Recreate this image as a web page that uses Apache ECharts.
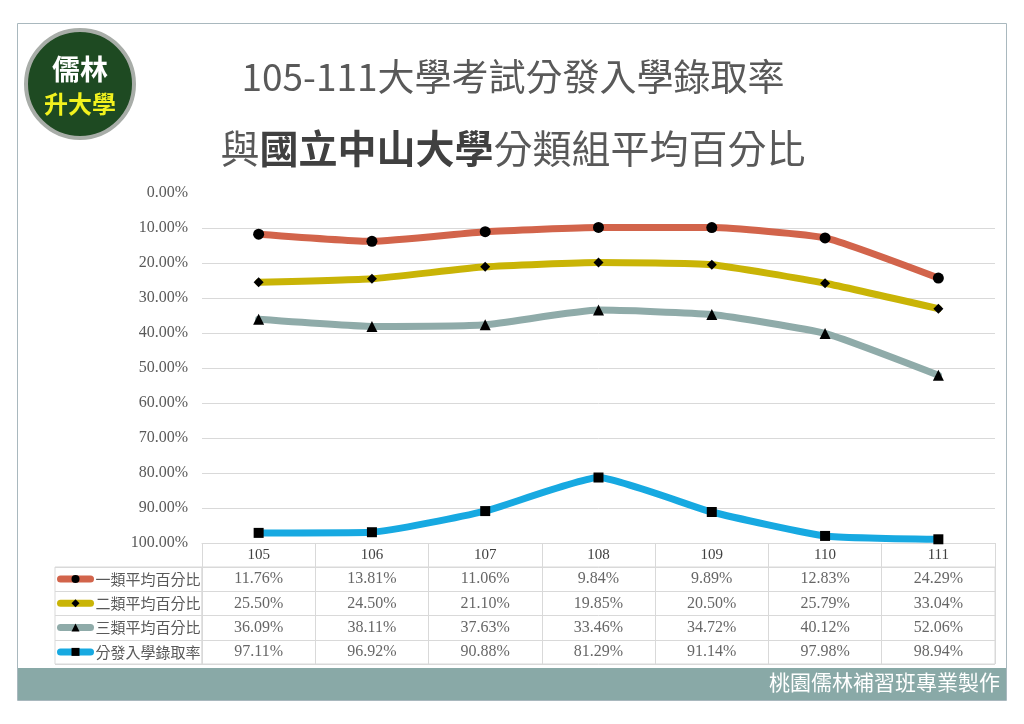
<!DOCTYPE html>
<html><head><meta charset="utf-8">
<script src="https://cdn.jsdelivr.net/npm/echarts@6/dist/echarts.min.js"></script>
<style>html,body{margin:0;padding:0;background:#fff}#c{width:1024px;height:724px}</style>
</head><body><div id="c"></div>
<script>
const categories = ['105','106','107','108','109','110','111'];
const seriesNames = ['一類平均百分比','二類平均百分比','三類平均百分比','分發入學錄取率'];
const group1 = [11.76, 13.81, 11.06, 9.84, 9.89, 12.83, 24.29];
const group2 = [25.50, 24.50, 21.10, 19.85, 20.50, 25.79, 33.04];
const group3 = [36.09, 38.11, 37.63, 33.46, 34.72, 40.12, 52.06];
const admitRate = [97.11, 96.92, 90.88, 81.29, 91.14, 97.98, 98.94];

const allSeries = [group1, group2, group3, admitRate];
const colors = ['#D2644B', '#C9B406', '#8FABA9', '#17A9E1'];
const symbols = ['circle', 'diamond', 'triangle', 'rect'];
const symbolSizes = [11, 10, 11, 10];
const CJK = '"Noto Sans CJK TC","Noto Sans CJK SC",sans-serif';
const SERIF = '"Liberation Serif","DejaVu Serif",serif';

const chart = echarts.init(document.getElementById('c'), null, {renderer: 'canvas'});

const lineSeries = allSeries.map((d, i) => ({
  name: seriesNames[i], type: 'line', xAxisIndex: 0, yAxisIndex: 0,
  data: d, smooth: 0.15, symbol: symbols[i], symbolSize: symbolSizes[i],
  showAllSymbol: true, z: 5 + i,
  itemStyle: {color: '#000'},
  lineStyle: {color: colors[i], width: 7, cap: 'round'}
}));

const cellData = [];
allSeries.forEach((d, r) => d.forEach((v, c) => cellData.push([c, r, v])));

const option = {
  animation: false,
  graphic: [
    {type: 'rect', shape: {x: 17.5, y: 23.5, width: 989, height: 677}, style: {fill: 'none', stroke: '#A9B8BE', lineWidth: 1}, z: 0},
    {type: 'rect', shape: {x: 18, y: 668, width: 988, height: 32}, style: {fill: '#89A9A7'}, z: 1},
    {type: 'text', right: 24, top: 672, style: {text: '桃園儒林補習班專業製作', fill: '#fff', font: '21px ' + CJK}, z: 2},
    {type: 'circle', shape: {cx: 80, cy: 84, r: 54}, style: {fill: '#1E4A22', stroke: '#A8ADA8', lineWidth: 4}, z: 1},
    {type: 'text', x: 80, y: 69, style: {text: '儒林', fill: '#fff', font: 'bold 28px ' + CJK, align: 'center', verticalAlign: 'middle'}, z: 2},
    {type: 'text', x: 80, y: 104, style: {text: '升大學', fill: '#F2F21E', font: 'bold 24px ' + CJK, align: 'center', verticalAlign: 'middle'}, z: 2},
    {type: 'text', x: 513, y: 77, style: {text: '105-111大學考試分發入學錄取率', fill: '#595959', font: '37px ' + CJK, align: 'center', verticalAlign: 'middle'}, z: 2},
    {type: 'text', x: 513, y: 148, style: {
      text: '{n|與}{b|國立中山大學}{n|分類組平均百分比}', align: 'center', verticalAlign: 'middle',
      rich: {n: {fill: '#595959', font: '39px ' + CJK}, b: {fill: '#404040', font: 'bold 39px ' + CJK}}
    }, z: 2}
  ],
  legend: {
    orient: 'vertical', left: 57, top: 571, itemWidth: 30, itemHeight: 10, itemGap: 8.3,
    padding: 0, data: seriesNames,
    textStyle: {fontFamily: CJK, fontSize: 15, color: '#595959', lineHeight: 16},
    lineStyle: {width: 7, cap: 'round'}
  },
  grid: [
    {left: 202, right: 29, top: 193, height: 350},
    {left: 202, right: 29, top: 567, height: 97, show: true, borderColor: '#D9D9D9', borderWidth: 1},
    {left: 55, width: 147, top: 567, height: 97, show: true, borderColor: '#D9D9D9', borderWidth: 1}
  ],
  xAxis: [
    {type: 'category', gridIndex: 0, data: categories, boundaryGap: true,
     axisLine: {onZero: false, lineStyle: {color: '#D9D9D9'}},
     axisTick: {show: true, length: 24, interval: 0, lineStyle: {color: '#D9D9D9'}},
     axisLabel: {margin: 5, color: '#404040', fontFamily: SERIF, fontSize: 15}},
    {type: 'category', gridIndex: 1, data: categories, boundaryGap: true,
     axisLine: {show: false}, axisTick: {show: false}, axisLabel: {show: false},
     splitLine: {show: true, interval: 0, lineStyle: {color: '#D9D9D9'}}},
    {type: 'value', gridIndex: 2, show: false, min: 0, max: 1}
  ],
  yAxis: [
    {type: 'value', gridIndex: 0, inverse: true, min: 0, max: 100, interval: 10,
     axisLine: {show: false}, axisTick: {show: false},
     axisLabel: {margin: 14, color: '#595959', fontFamily: SERIF, fontSize: 16,
       formatter: v => v.toFixed(2) + '%'},
     splitLine: {show: true, showMinLine: false, lineStyle: {color: '#D9D9D9'}}},
    {type: 'category', gridIndex: 1, inverse: true, data: seriesNames,
     axisLine: {show: false}, axisTick: {show: false}, axisLabel: {show: false},
     splitLine: {show: true, interval: 0, lineStyle: {color: '#D9D9D9'}}},
    {type: 'category', gridIndex: 2, inverse: true, data: seriesNames,
     axisLine: {show: false}, axisTick: {show: false}, axisLabel: {show: false},
     splitLine: {show: true, interval: 0, lineStyle: {color: '#D9D9D9'}}}
  ],
  series: lineSeries.concat([{
    type: 'scatter', xAxisIndex: 1, yAxisIndex: 1, symbolSize: 0, data: cellData,
    silent: true,
    label: {show: true, position: 'inside', color: '#404040', fontFamily: SERIF, fontSize: 16,
      formatter: p => p.value[2].toFixed(2) + '%'}
  }])
};
chart.setOption(option);
</script></body></html>
